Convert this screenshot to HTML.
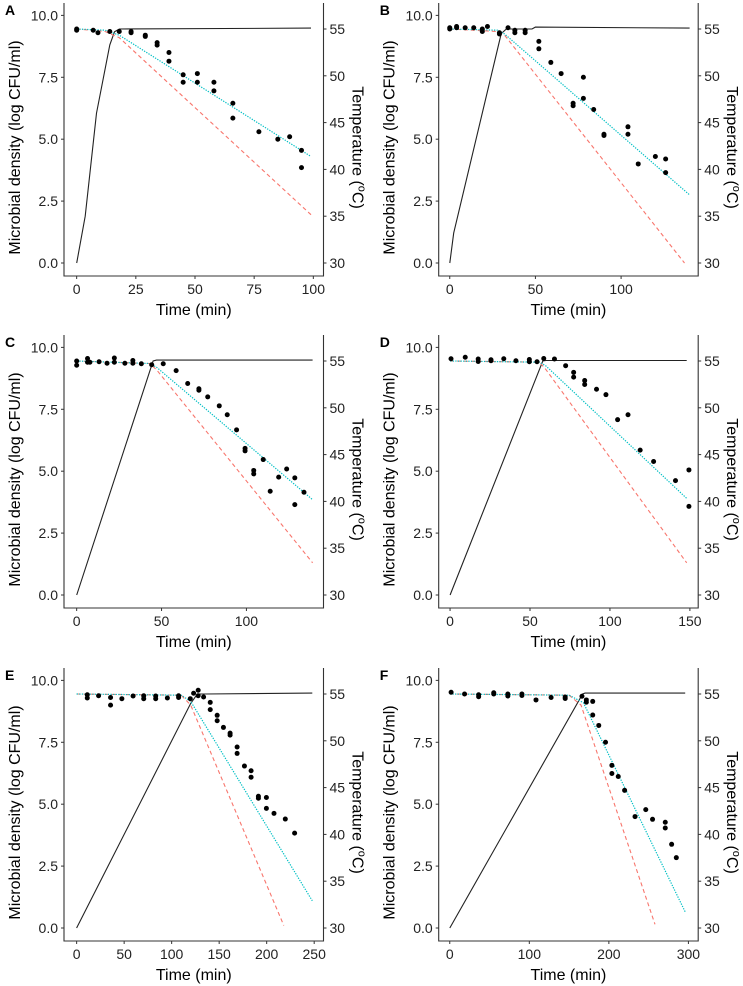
<!DOCTYPE html>
<html><head><meta charset="utf-8"><style>
html,body{margin:0;padding:0;background:#fff;}
svg{display:block;font-family:"Liberation Sans",Arial,sans-serif;}
</style></head><body>
<svg id="fig" width="743" height="986" viewBox="0 0 743 986" xmlns="http://www.w3.org/2000/svg"></svg>
<script>
// ---- Panel A ----
const aObsT=[0,0,7,9,14,18,23,23,29,29,34,34,39,39,45,45,51,51,58,58,66,66,77,85,90,95,95];
const aObsY=[9.45,9.4,9.4,9.3,9.35,9.35,9.35,9.3,9.2,9.15,8.9,8.8,8.5,8.15,7.6,7.3,7.65,7.3,7.3,6.95,6.45,5.85,5.3,5.0,5.1,4.55,3.85];
const aTempT=[0,3.6,8.4,14,16,18,99];
const aTemp=[30,35,46,53.3,54.7,55,55.1];
const aRedT=[0,12,18,99], aRedY=[9.45,9.35,9.1,1.95];
const aCyT=[0,12,18,99], aCyY=[9.45,9.4,9.2,4.3];
const aTicks=[0,25,50,75,100];
// ---- Panel B ----
const bObsT=[0,0,4,4,9,14,19,19,22,29,29,34,38,38,44,44,52,52,59,65,72,72,78,78,84,90,90,104,104,110,120,126,126];
const bObsY=[9.5,9.45,9.55,9.5,9.5,9.5,9.45,9.35,9.55,9.3,9.25,9.5,9.4,9.3,9.4,9.3,8.95,8.65,8.1,7.65,6.45,6.35,7.5,6.65,6.2,5.2,5.15,5.5,5.2,4.0,4.3,4.2,3.65];
const bTempT=[0,2.3,30,33,48,50,140];
const bTemp=[30,33.2,54.5,55,55,55.2,55.1];
const bRedT=[0,28,32,137], bRedY=[9.45,9.35,9.2,0];
const bCyT=[0,28,32,140], bCyY=[9.45,9.4,9.25,2.75];
const bTicks=[0,50,100];
// ---- Panel C ----
const cObsT=[0,0,6.4,6.4,7.8,13.2,17.9,22.2,22.2,28.4,33.1,33.1,38.1,44.2,51,58.6,65.4,72,72,77.2,84,88.7,94.2,99.2,99.2,104.3,104.3,109.9,114,119,123.7,128.5,128.5,133.9];
const cObsY=[9.45,9.28,9.55,9.4,9.4,9.42,9.36,9.57,9.4,9.36,9.47,9.36,9.34,9.3,9.34,9.06,8.54,8.33,8.27,8.0,7.64,7.28,6.67,5.92,5.82,5.03,4.89,5.47,4.19,4.76,5.09,4.73,3.65,4.15];
const cTempT=[0,45,47,139];
const cTemp=[30,55,55.1,55.1];
const cRedT=[0,43,47,139], cRedY=[9.45,9.35,9.1,1.3];
const cCyT=[0,43,47,139], cCyY=[9.45,9.35,9.2,3.85];
const cTicks=[0,50,100];
// ---- Panel D ----
const dObsT=[0.6,9.5,17.6,17.6,25.6,25.6,33.6,41.2,49.6,49.6,54.4,58.6,65.3,72.3,77.3,77.3,84.2,84.2,91.6,97.5,104.8,111.3,118.9,127.3,141,149.4,149.4];
const dObsY=[9.54,9.6,9.53,9.43,9.5,9.46,9.54,9.46,9.51,9.42,9.42,9.55,9.53,9.26,8.99,8.8,8.66,8.5,8.31,8.09,7.08,7.28,5.85,5.39,4.62,5.05,3.58];
const dTempT=[0,58,60,148];
const dTemp=[30,55,55.05,55.05];
const dRedT=[0,56,60,148], dRedY=[9.45,9.4,9.1,1.3];
const dCyT=[0,56,60,148], dCyY=[9.45,9.4,9.25,3.9];
const dTicks=[0,50,100,150];
// ---- Panel E ----
const eObsT=[11.2,11.2,23.1,35.7,35.7,47.6,59.4,70.6,70.6,83.2,83.2,95.5,107.3,107.3,119.6,123.1,127.9,127.9,133.6,140.6,140.6,147.9,147.9,154.5,161.5,161.5,168.9,168.9,176.6,183.6,183.6,191.3,191.3,199.7,199.7,207.7,219.6,229.4];
const eObsY=[9.42,9.29,9.38,9.31,9.0,9.26,9.37,9.38,9.26,9.37,9.26,9.29,9.38,9.31,9.26,9.48,9.6,9.38,9.33,9.11,8.82,8.59,8.37,8.1,7.87,7.79,7.31,7.05,6.54,6.35,6.09,5.32,5.24,5.27,4.83,4.63,4.4,3.83];
const eTempT=[0,120,127,135,248];
const eTemp=[30,54,55,55,55.1];
const eRedT=[0,110,120,218], eRedY=[9.45,9.4,9.0,0.1];
const eCyT=[0,110,120,248], eCyY=[9.45,9.4,9.15,1.1];
const eTicks=[0,50,100,150,200,250];
// ---- Panel F ----
const fObsT=[1.7,18.6,36.3,36.3,55.3,55.3,73,73,90.7,90.7,108.4,127.4,145.1,145.1,166.2,171.7,171.7,179.7,179.7,187.3,195.8,203.8,203.8,211.8,219.8,232.9,246.4,254.9,270.9,270.9,278.9,284.8];
const fObsY=[9.52,9.45,9.42,9.34,9.5,9.45,9.45,9.37,9.45,9.39,9.21,9.31,9.33,9.27,9.36,9.21,9.12,9.15,8.6,8.18,7.5,6.57,6.24,6.12,5.56,4.5,4.78,4.39,4.27,4.04,3.38,2.84];
const fTempT=[0,167,170,296];
const fTemp=[30,55,55.1,55.1];
const fRedT=[0,150,165,258], fRedY=[9.45,9.4,9.0,0.15];
const fCyT=[0,150,168,296], fCyY=[9.45,9.4,9.1,0.65];
const fTicks=[0,100,200,300];

const yTicks=[0,2.5,5,7.5,10];
const yTickLabels=["0.0","2.5","5.0","7.5","10.0"];
const tTicks=[30,35,40,45,50,55];

const NS="http://www.w3.org/2000/svg";
const svg=document.getElementById('fig');
function mk(tag,attrs,parent){const e=document.createElementNS(NS,tag);for(const k in attrs)e.setAttribute(k,attrs[k]);(parent||svg).appendChild(e);return e;}

const panels=[
 {id:'a',L:'A',ox:64,oy:3,xd:[-5.35,104.3],obsT:aObsT,obsY:aObsY,tT:aTempT,tV:aTemp,rT:aRedT,rY:aRedY,cT:aCyT,cY:aCyY,ticks:aTicks},
 {id:'b',L:'B',ox:438.7,oy:3,xd:[-6.45,145],obsT:bObsT,obsY:bObsY,tT:bTempT,tV:bTemp,rT:bRedT,rY:bRedY,cT:bCyT,cY:bCyY,ticks:bTicks},
 {id:'c',L:'C',ox:64,oy:335,xd:[-7.46,145.4],obsT:cObsT,obsY:cObsY,tT:cTempT,tV:cTemp,rT:cRedT,rY:cRedY,cT:cCyT,cY:cCyY,ticks:cTicks},
 {id:'d',L:'D',ox:438.7,oy:335,xd:[-7.1,155.2],obsT:dObsT,obsY:dObsY,tT:dTempT,tV:dTemp,rT:dRedT,rY:dRedY,cT:dCyT,cY:dCyY,ticks:dTicks},
 {id:'e',L:'E',ox:64,oy:668,xd:[-13.3,259.8],obsT:eObsT,obsY:eObsY,tT:eTempT,tV:eTemp,rT:eRedT,rY:eRedY,cT:eCyT,cY:eCyY,ticks:eTicks},
 {id:'f',L:'F',ox:438.7,oy:668,xd:[-13.9,312.3],obsT:fObsT,obsY:fObsY,tT:fTempT,tV:fTemp,rT:fRedT,rY:fRedY,cT:fCyT,cY:fCyY,ticks:fTicks}
];
const W=259.5,H=273,YD=[-0.525,10.5];

panels.forEach(p=>{
 const g=mk('g',{});
 
 
 const sx=v=>p.ox+(v-p.xd[0])/(p.xd[1]-p.xd[0])*W;
 const sy=v=>p.oy+H-(v-YD[0])/(YD[1]-YD[0])*H;
 const st=t=>sy((t-30)*0.378);
 const R=p.ox+W,B=p.oy+H;
 const ax=mk('path',{d:`M${p.ox},${p.oy}V${B}H${R}V${p.oy}`,fill:'none',stroke:'#333','stroke-width':1.1},g);
 
 
 yTicks.forEach((v,i)=>{
  const y=sy(v);
  mk('line',{x1:p.ox-3,x2:p.ox,y1:y,y2:y,stroke:'#333'},g);
  const t=mk('text',{x:p.ox-6,y:y+5,'text-anchor':'end','font-size':14,fill:'#222'},g);
  t.textContent=yTickLabels[i];
  
  
 });
 tTicks.forEach(v=>{
  const y=st(v);
  mk('line',{x1:R,x2:R+3,y1:y,y2:y,stroke:'#333'},g);
  const t=mk('text',{x:R+6,y:y+5,'font-size':14,fill:'#222'},g);
  t.textContent=v;
  
  
 });
 p.ticks.forEach(v=>{
  const x=sx(v);
  mk('line',{x1:x,x2:x,y1:B,y2:B+3,stroke:'#333'},g);
  const t=mk('text',{x:x,y:B+18,'text-anchor':'middle','font-size':14,fill:'#222'},g);
  t.textContent=v;
  
  
 });
 const xt=mk('text',{x:p.ox+W/2,y:B+39,'text-anchor':'middle','font-size':16,fill:'#000'},g);
 xt.textContent='Time (min)';
 
 
 const yc=p.oy+H/2+8;
 const yt=mk('text',{x:p.ox-44,y:yc,transform:`rotate(-90 ${p.ox-44} ${yc})`,'text-anchor':'middle','font-size':16,fill:'#000'},g);
 yt.textContent='Microbial density (log CFU/ml)';
 
 
 const rx=R+29;
 const rt=mk('text',{x:rx,y:yc,transform:`rotate(90 ${rx} ${yc})`,'text-anchor':'middle','font-size':16,fill:'#000'},g);
 rt.innerHTML='Temperature (<tspan font-size="11" dy="-6">o</tspan><tspan dy="6">C)</tspan>';
 
 
 const lt=mk('text',{x:p.ox-59,y:p.oy+12,'font-size':14,'font-weight':'bold',fill:'#000'},g);
 lt.textContent=p.L;
 
 
 const line=(ts,vs,f)=>ts.map((t,i)=>(i?'L':'M')+sx(t).toFixed(1)+','+f(vs[i]).toFixed(1)).join('');
 const tl=mk('path',{d:line(p.tT,p.tV,st),fill:'none',stroke:'#222','stroke-width':1.1},g);
 
 
 const rl=mk('path',{d:line(p.rT,p.rY,sy),fill:'none',stroke:'#f8766d','stroke-width':1.1,'stroke-dasharray':'4,3'},g);
 
 
 const cl=mk('path',{d:line(p.cT,p.cY,sy),fill:'none',stroke:'#00bfc4','stroke-width':1.2,'stroke-dasharray':'1.3,1.3'},g);
 
 
 p.obsT.forEach((t,i)=>{
  const c=mk('circle',{cx:sx(t),cy:sy(p.obsY[i]),r:2.5,fill:'#000'},g);
  
  
 });
});
</script>
</body></html>
